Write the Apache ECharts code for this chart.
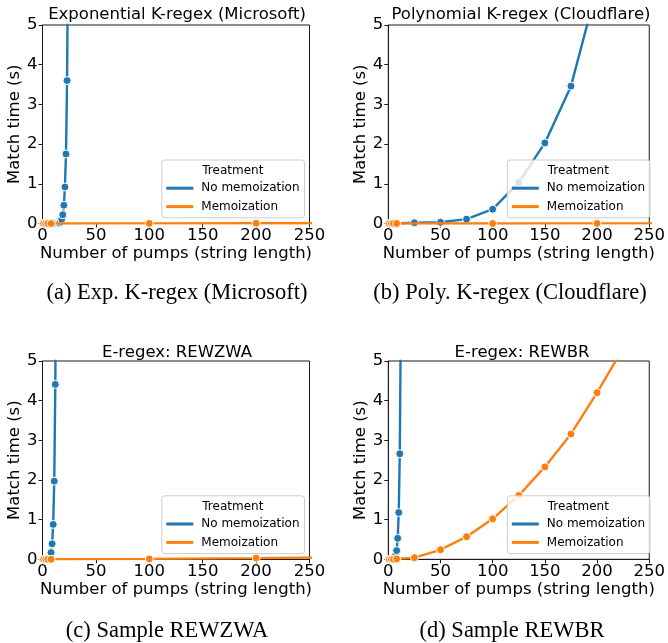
<!DOCTYPE html>
<html>
<head>
<meta charset="utf-8">
<script src="https://cdn.jsdelivr.net/npm/echarts@6/dist/echarts.min.js"></script>
<style>
html,body{margin:0;padding:0;background:#fff;}
#chart{width:668px;height:643px;}
</style>
</head>
<body>
<div id="chart"></div>
<script>
// ---- Data ----
const panelTitles = ['Exponential K-regex (Microsoft)', 'Polynomial K-regex (Cloudflare)', 'E-regex: REWZWA', 'E-regex: REWBR'];
const captions = ['(a) Exp. K-regex (Microsoft)', '(b) Poly. K-regex (Cloudflare)', '(c) Sample REWZWA', '(d) Sample REWBR'];
const seriesNames = ['No memoization', 'Memoization'];
const legendTitle = 'Treatment';
const xName = 'Number of pumps (string length)';
const yName = 'Match time (s)';

// (a) Exponential K-regex (Microsoft)
const aNoMemoX = [1, 5, 10, 15, 16, 17, 18, 19, 20, 21, 22, 23, 24];
const aNoMemoY = [0, 0, 0, 0.005, 0.015, 0.05, 0.11, 0.22, 0.46, 0.92, 1.75, 3.6, 7.2];
const aMemoX = [1, 3, 5, 8, 100, 200, 500];
const aMemoY = [0, 0, 0, 0, 0.002, 0.005, 0.01];

// (b) Polynomial K-regex (Cloudflare)
const bNoMemoX = [1, 5, 8, 25, 50, 75, 100, 125, 150, 175, 200];
const bNoMemoY = [0, 0, 0, 0.02, 0.03, 0.11, 0.36, 1.03, 2.03, 3.46, 5.95];
const bMemoX = [1, 3, 5, 8, 100, 200, 500];
const bMemoY = [0, 0, 0, 0, 0.001, 0.002, 0.005];

// (c) E-regex: REWZWA
const cNoMemoX = [1, 3, 5, 7, 8, 9, 10, 11, 12, 13];
const cNoMemoY = [0, 0, 0.01, 0.07, 0.17, 0.39, 0.88, 1.97, 4.41, 9.8];
const cMemoX = [1, 3, 5, 8, 100, 200, 500];
const cMemoY = [0, 0, 0, 0, 0.01, 0.03, 0.12];

// (d) E-regex: REWBR
const dNoMemoX = [1, 3, 5, 7, 8, 9, 10, 11, 12];
const dNoMemoY = [0, 0, 0.01, 0.1, 0.22, 0.53, 1.18, 2.66, 6.0];
const dMemoX = [1, 3, 5, 8, 25, 50, 75, 100, 125, 150, 175, 200, 225];
const dMemoY = [0, 0, 0, 0.01, 0.04, 0.24, 0.57, 1.02, 1.61, 2.33, 3.16, 4.2, 5.32];

const xTicks = {min: 0, max: 250, interval: 50};
const yTicks = {min: 0, max: 5, interval: 1};

// ---- Layout / style ----
const BLUE = '#1f77b4', ORANGE = '#ff7f0e', INK = '#1a1a1a';
const SANS = 'DejaVu Sans';
const SERIF = 'Liberation Serif';
const FS = 16.5;

const grids = [
  {left: 42.5, top: 25, width: 267, height: 198.5},
  {left: 388.3, top: 25, width: 266.7, height: 198.5},
  {left: 42.5, top: 361, width: 267, height: 198.3},
  {left: 388.3, top: 361, width: 266.7, height: 198.3}
];
const panelData = [
  [[aNoMemoX, aNoMemoY], [aMemoX, aMemoY]],
  [[bNoMemoX, bNoMemoY], [bMemoX, bMemoY]],
  [[cNoMemoX, cNoMemoY], [cMemoX, cMemoY]],
  [[dNoMemoX, dNoMemoY], [dMemoX, dMemoY]]
];
const titlePos = [[177, 15], [521, 15], [177, 352.7], [522, 352.7]];
const captionPos = [[177, 293], [510, 293], [167, 631], [512, 631]];

function zip(xs, ys) { return xs.map((x, i) => [x, ys[i]]); }

const option = {
  animation: false,
  backgroundColor: '#fff',
  grid: grids.map(g => Object.assign({show: true, borderColor: INK, borderWidth: 1, backgroundColor: '#fff'}, g)),
  xAxis: grids.map((g, i) => ({
    gridIndex: i, type: 'value', min: xTicks.min, max: xTicks.max, interval: xTicks.interval,
    splitLine: {show: false},
    axisLine: {show: true, onZero: false, lineStyle: {color: INK, width: 1}},
    axisTick: {show: true, length: 4, lineStyle: {color: INK, width: 1}},
    axisLabel: {fontSize: FS, color: '#000', margin: 4, fontFamily: SANS},
    name: xName, nameLocation: 'middle', nameGap: 20,
    nameTextStyle: {fontSize: FS, color: '#000', fontFamily: SANS}
  })),
  yAxis: grids.map((g, i) => ({
    gridIndex: i, type: 'value', min: yTicks.min, max: yTicks.max, interval: yTicks.interval,
    splitLine: {show: false},
    axisLine: {show: true, onZero: false, lineStyle: {color: INK, width: 1}},
    axisTick: {show: true, length: 4, lineStyle: {color: INK, width: 1}},
    axisLabel: {fontSize: FS, color: '#000', margin: 5, fontFamily: SANS},
    name: yName, nameLocation: 'middle', nameGap: 17,
    nameTextStyle: {fontSize: FS, color: '#000', fontFamily: SANS}
  })),
  legend: grids.map(g => ({
    data: seriesNames,
    orient: 'vertical',
    left: g.left + g.width - 5.7 - 142,
    top: g.top + g.height - 6 - 57.5,
    padding: [19, 5, 2, 4.5],
    itemGap: 0,
    itemWidth: 27,
    itemHeight: 3,
    icon: 'rect',
    itemStyle: {borderWidth: 0},
    backgroundColor: 'rgba(255,255,255,0.8)',
    borderColor: '#cccccc',
    borderWidth: 1,
    borderRadius: 3,
    textStyle: {fontSize: 12, color: '#000', fontFamily: SANS, lineHeight: 18.4, padding: [0, 0, 0, 3]},
    z: 10
  })),
  graphic: [],
  series: []
};

grids.forEach((g, i) => {
  const colors = [BLUE, ORANGE];
  panelData[i].forEach((pair, k) => {
    option.series.push({
      name: seriesNames[k], type: 'line',
      xAxisIndex: i, yAxisIndex: i,
      data: zip(pair[0], pair[1]),
      clip: true,
      symbol: 'circle', symbolSize: 8, showSymbol: true,
      lineStyle: {color: colors[k], width: 2.4},
      itemStyle: {color: colors[k], borderColor: '#fff', borderWidth: 1},
      emphasis: {disabled: true},
      z: 2 + k
    });
  });
  // legend title
  option.graphic.push({
    type: 'text', z: 100,
    x: g.left + g.width - 5.7 - 71, y: g.top + g.height - 6 - 57.5 + 10.7,
    style: {text: legendTitle, fontSize: 12, fontFamily: SANS, fill: '#000', align: 'center', verticalAlign: 'middle'}
  });
  // panel title
  option.graphic.push({
    type: 'text', z: 100, x: titlePos[i][0], y: titlePos[i][1],
    style: {text: panelTitles[i], fontSize: FS, fontFamily: SANS, fill: '#000', align: 'center', verticalAlign: 'middle'}
  });
  // caption
  option.graphic.push({
    type: 'text', z: 100, x: captionPos[i][0], y: captionPos[i][1],
    style: {text: captions[i], fontSize: 22.5, fontFamily: SERIF, fill: '#000', align: 'center', verticalAlign: 'middle'}
  });
});

const chart = echarts.init(document.getElementById('chart'), null, {renderer: 'canvas', width: 668, height: 643});
chart.setOption(option);
</script>
</body>
</html>
